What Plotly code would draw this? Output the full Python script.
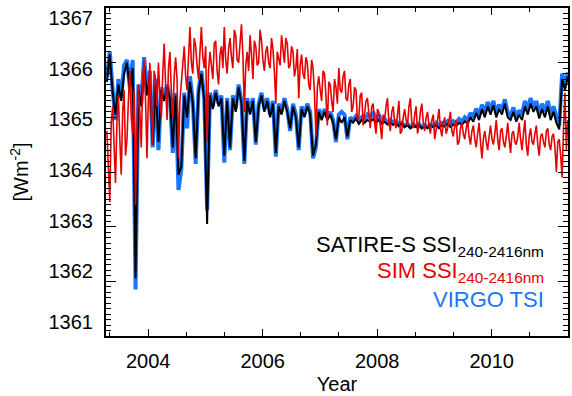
import numpy as np
import plotly.graph_objects as go

# time grids (decimal year)
t_start = 2003.28
t_step = 0.05        # SATIRE-S and VIRGO sampling
t_step_sim = 0.025   # SIM sampling (noisier series, read more finely)

satire = [
    1365.65, 1366.15, 1365.45, 1365.05, 1365.6, 1365.3, 1365.8, 1366.0, 1365.5, 1365.9,
    1362.05, 1365.5, 1365.2, 1365.95, 1365.4, 1365.75, 1364.5, 1365.6, 1364.55, 1365.5,
    1365.3, 1365.55, 1365.35, 1364.45, 1365.4, 1363.95, 1364.1, 1365.4, 1365.0, 1365.65,
    1365.25, 1364.25, 1365.45, 1365.8, 1365.3, 1363.05, 1365.4, 1365.15, 1365.45, 1365.2,
    1365.35, 1364.3, 1365.3, 1364.45, 1365.35, 1365.1, 1365.55, 1365.25, 1364.2, 1365.3,
    1365.05, 1365.3, 1364.55, 1365.2, 1365.4, 1365.1, 1365.3, 1365.0, 1365.25, 1364.35,
    1365.2, 1365.05, 1365.3, 1365.1, 1364.8, 1365.2, 1365.0, 1364.45, 1365.15, 1365.0,
    1365.2, 1365.05, 1364.3, 1364.5, 1365.1, 1364.95, 1365.1, 1364.95, 1365.05, 1364.9,
    1364.6, 1365.0, 1364.9, 1365.0, 1364.65, 1364.95, 1364.9, 1364.98, 1364.88, 1364.95,
    1364.9, 1364.95, 1364.92, 1364.97, 1364.9, 1364.95, 1364.88, 1364.92, 1364.87, 1364.9,
    1364.86, 1364.9, 1364.84, 1364.88, 1364.82, 1364.86, 1364.8, 1364.85, 1364.82, 1364.86,
    1364.8, 1364.84, 1364.8, 1364.85, 1364.82, 1364.86, 1364.8, 1364.85, 1364.83, 1364.88,
    1364.82, 1364.87, 1364.84, 1364.9, 1364.86, 1364.93, 1364.88, 1365.0, 1364.92, 1365.08,
    1364.95, 1365.15, 1365.0, 1365.2, 1365.05, 1365.22, 1365.0, 1365.15, 1365.05, 1365.25,
    1365.0, 1364.95, 1365.1, 1364.92, 1365.05, 1364.95, 1365.2, 1365.05, 1365.25, 1365.1,
    1365.2, 1364.98, 1365.15, 1365.0, 1365.2, 1364.95, 1365.1, 1364.9, 1364.78, 1365.7,
    1365.5, 1365.75,
]

virgo = [
    1365.75, 1366.2, 1365.5, 1364.95, 1365.7, 1365.35, 1365.95, 1366.05, 1365.55, 1366.05,
    1361.85, 1365.6, 1365.25, 1366.1, 1365.45, 1365.85, 1364.45, 1365.7, 1364.4, 1365.55,
    1365.35, 1365.6, 1365.4, 1364.35, 1365.45, 1363.67, 1364.05, 1365.45, 1364.8, 1365.75,
    1365.3, 1364.15, 1365.5, 1365.85, 1365.35, 1363.3, 1365.45, 1365.2, 1365.5, 1365.25,
    1365.4, 1364.17, 1365.35, 1364.4, 1365.4, 1365.15, 1365.6, 1365.3, 1364.15, 1365.35,
    1365.1, 1365.35, 1364.5, 1365.25, 1365.45, 1365.15, 1365.35, 1365.05, 1365.3, 1364.28,
    1365.25, 1365.1, 1365.35, 1365.15, 1364.75, 1365.25, 1365.05, 1364.4, 1365.2, 1365.05,
    1365.25, 1365.1, 1364.25, 1364.45, 1365.15, 1365.0, 1365.15, 1365.0, 1365.1, 1364.95,
    1364.55, 1365.05, 1365.1, 1365.05, 1364.6, 1365.0, 1364.95, 1365.02, 1364.93, 1365.0,
    1364.95, 1365.05, 1365.0, 1365.1, 1364.95, 1365.05, 1364.92, 1364.97, 1364.9, 1364.95,
    1364.9, 1364.93, 1364.86, 1364.9, 1364.84, 1364.88, 1364.82, 1364.87, 1364.84, 1364.88,
    1364.82, 1364.86, 1364.82, 1364.87, 1364.84, 1364.9, 1364.84, 1364.9, 1364.88, 1364.93,
    1364.88, 1364.93, 1364.9, 1364.97, 1364.92, 1365.0, 1364.95, 1365.08, 1365.0, 1365.16,
    1365.03, 1365.23, 1365.08, 1365.28, 1365.13, 1365.3, 1365.08, 1365.23, 1365.13, 1365.33,
    1365.08, 1365.03, 1365.18, 1365.0, 1365.13, 1365.05, 1365.3, 1365.13, 1365.35, 1365.18,
    1365.3, 1365.06, 1365.25, 1365.1, 1365.3, 1365.05, 1365.2, 1365.0, 1364.85, 1365.8,
    1365.6, 1365.82,
]

sim = [
    1364.75, 1364.2, 1363.45, 1364.9, 1365.2, 1364.5, 1363.8, 1364.9, 1365.4, 1364.6,
    1363.95, 1365.1, 1365.5, 1364.3, 1364.6, 1365.3, 1365.85, 1365.0, 1364.7, 1365.5,
    1363.4, 1364.8, 1365.6, 1365.1, 1364.45, 1365.7, 1366.05, 1365.3, 1364.25, 1365.4,
    1366.0, 1365.2, 1364.5, 1365.85, 1365.7, 1365.2, 1366.0, 1365.4, 1365.0, 1365.8,
    1366.35, 1365.6, 1364.95, 1365.9, 1366.2, 1365.5, 1365.0, 1365.75, 1366.1, 1365.7,
    1364.25, 1365.3, 1365.6, 1366.0, 1366.3, 1365.75, 1365.5, 1366.1, 1366.65, 1366.0,
    1365.8, 1366.45, 1366.3, 1365.95, 1365.7, 1366.2, 1366.65, 1366.1, 1365.9, 1366.3,
    1364.55, 1365.85, 1366.2, 1365.95, 1365.7, 1366.35, 1366.4, 1365.85, 1365.6, 1366.15,
    1366.3, 1365.9, 1366.65, 1366.05, 1365.8, 1366.25, 1366.45, 1366.1, 1365.9, 1366.6,
    1366.5, 1366.05, 1366.0, 1366.35, 1366.7, 1366.15, 1365.1, 1365.95, 1366.2, 1365.85,
    1366.5, 1366.15, 1365.7, 1366.4, 1366.3, 1365.95, 1366.0, 1366.6, 1366.4, 1366.05,
    1365.85, 1366.2, 1366.3, 1366.0, 1365.9, 1366.45, 1366.25, 1365.85, 1365.25, 1366.2,
    1366.1, 1365.95, 1366.5, 1366.2, 1366.0, 1366.45, 1366.35, 1365.9, 1365.95, 1366.3,
    1366.2, 1365.75, 1365.9, 1366.25, 1365.35, 1365.95, 1366.15, 1365.8, 1365.7, 1366.1,
    1366.0, 1365.6, 1365.5, 1366.05, 1365.9, 1365.45, 1364.65, 1365.55, 1365.75, 1365.5,
    1365.3, 1365.85, 1365.8, 1365.4, 1364.85, 1365.65, 1365.6, 1365.3, 1365.1, 1365.7,
    1365.55, 1365.25, 1365.9, 1365.5, 1365.45, 1365.75, 1365.85, 1365.35, 1365.3, 1365.6,
    1365.7, 1365.1, 1365.2, 1365.55, 1365.5, 1364.95, 1365.0, 1365.4, 1365.45, 1364.85,
    1365.05, 1365.3, 1365.35, 1365.0, 1364.8, 1365.2, 1365.25, 1364.9, 1364.7, 1365.15,
    1365.1, 1364.85, 1364.6, 1365.05, 1364.95, 1365.2, 1365.35, 1364.9, 1364.75, 1365.1,
    1365.2, 1364.9, 1364.8, 1365.05, 1365.3, 1364.7, 1364.75, 1365.0, 1365.15, 1364.95,
    1364.85, 1365.2, 1365.35, 1364.9, 1364.8, 1365.05, 1365.2, 1364.7, 1364.85, 1365.1,
    1365.25, 1364.9, 1364.75, 1365.0, 1365.1, 1364.85, 1364.7, 1364.95, 1365.05, 1364.6,
    1364.75, 1364.95, 1365.15, 1364.8, 1364.65, 1364.9, 1365.0, 1364.7, 1364.8, 1364.95,
    1365.1, 1364.75, 1364.65, 1364.85, 1364.95, 1364.5, 1364.55, 1364.8, 1364.9, 1364.7,
    1364.6, 1364.8, 1364.95, 1364.65, 1364.5, 1364.75, 1364.85, 1364.6, 1364.45, 1364.7,
    1364.9, 1364.55, 1364.25, 1364.6, 1364.75, 1364.55, 1364.4, 1364.65, 1364.85, 1364.6,
    1364.5, 1364.7, 1364.95, 1364.6, 1364.4, 1364.75, 1364.8, 1364.55, 1364.45, 1364.65,
    1364.9, 1364.6, 1364.35, 1364.7, 1364.75, 1364.55, 1364.5, 1364.65, 1364.9, 1364.6,
    1364.4, 1364.7, 1364.95, 1364.5, 1364.3, 1364.65, 1364.8, 1364.55, 1364.5, 1364.7,
    1364.85, 1364.5, 1364.3, 1364.65, 1364.7, 1364.55, 1364.45, 1364.75, 1364.8, 1364.5,
    1364.4, 1364.65, 1364.7, 1364.45, 1364.0, 1364.55, 1364.6, 1364.3, 1363.9, 1364.8,
    1365.45, 1364.4, 1364.95,
]

years = np.round(t_start + t_step * np.arange(len(satire)), 3)
years_sim = np.round(t_start + t_step_sim * np.arange(len(sim)), 4)

x_ticks = [2004, 2006, 2008, 2010]
y_ticks = [1361, 1362, 1363, 1364, 1365, 1366, 1367]

BLUE = "#1a75ff"
RED = "#e60000"
FONT = "Liberation Sans"

fig = go.Figure()
fig.add_trace(go.Scatter(x=years, y=virgo, mode="lines", line=dict(color=BLUE, width=4), name="VIRGO TSI"))
fig.add_trace(go.Scatter(x=years, y=satire, mode="lines", line=dict(color="black", width=2), name="SATIRE-S"))
fig.add_trace(go.Scatter(x=years_sim, y=sim, mode="lines", line=dict(color=RED, width=1.6), name="SIM"))
# invisible anchor so the label axis (IDL-style label placement) is drawn
fig.add_trace(go.Scatter(x=years[:1], y=virgo[:1], yaxis="y2", mode="markers",
                         marker=dict(opacity=0), hoverinfo="skip", showlegend=False))

axis_common = dict(
    showgrid=False, zeroline=False, showline=True, linecolor="black", linewidth=1.5,
    mirror="ticks", ticks="inside", tickcolor="black",
    tickfont=dict(family=FONT, size=20, color="black"),
)

fig.update_xaxes(
    **axis_common, range=[2003.264, 2011.333], tickvals=x_ticks, ticklen=7, tickwidth=1.2,
    minor=dict(tick0=2004, dtick=2 / 3, ticks="inside", ticklen=4, tickcolor="black", tickwidth=1),
    ticklabelstandoff=6,
    title=dict(text="Year", font=dict(family=FONT, size=20, color="black"), standoff=6),
)
fig.update_layout(
    yaxis=dict(
        **axis_common, range=[1361, 1367], tickvals=y_ticks, ticklen=10, tickwidth=1.2,
        minor=dict(tick0=1361, dtick=0.1, ticks="inside", ticklen=5, tickcolor="black", tickwidth=1),
        showticklabels=False,
    ),
    yaxis2=dict(
        overlaying="y", side="left", range=[1360.724, 1367.197], tickvals=y_ticks,
        showgrid=False, zeroline=False, showline=False, ticks="",
        tickfont=dict(family=FONT, size=20, color="black"), ticklabelstandoff=12,
        title=dict(text="[Wm<sup>-2</sup>]", font=dict(family=FONT, size=20, color="black"), standoff=14),
    ),
)

ann_font = dict(family=FONT, size=22)
fig.add_annotation(x=0.9526, y=0.274, xref="paper", yref="paper", xanchor="right", yanchor="middle",
                   text="SATIRE-S SSI<sub>240-2416nm</sub>", showarrow=False, font=dict(**ann_font, color="black"))
fig.add_annotation(x=0.9526, y=0.194, xref="paper", yref="paper", xanchor="right", yanchor="middle",
                   text="SIM SSI<sub>240-2416nm</sub>", showarrow=False, font=dict(**ann_font, color=RED))
fig.add_annotation(x=0.9526, y=0.111, xref="paper", yref="paper", xanchor="right", yanchor="middle",
                   text="VIRGO TSI", showarrow=False, font=dict(**ann_font, color=BLUE))

fig.update_layout(
    width=572, height=396, margin=dict(l=106, r=2, t=8, b=60),
    plot_bgcolor="white", paper_bgcolor="white", showlegend=False,
)

fig.write_html("out.html")
